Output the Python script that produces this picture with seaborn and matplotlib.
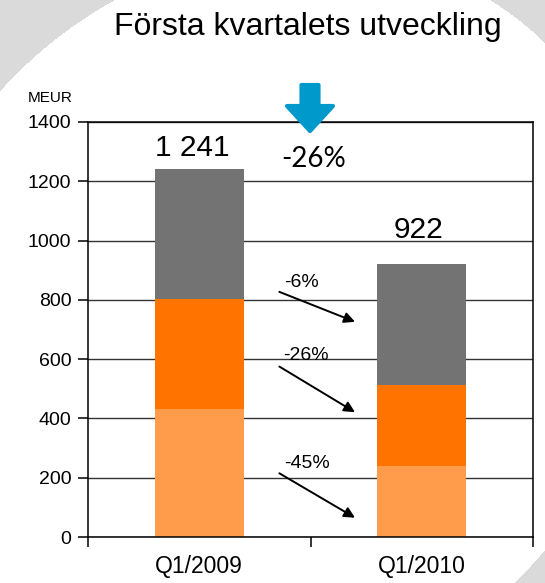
import matplotlib
matplotlib.use("Agg")
import matplotlib.pyplot as plt
from matplotlib.patches import FancyArrow
import seaborn as sns
import pandas as pd
import numpy as np

# Data (MEUR)
quarters = ['Q1/2009', 'Q1/2010']
low_part = [432, 238]     # light orange, bottom
mid_part = [370, 274]     # orange
top_part = [439, 410]     # grey, top
totals = [a + b + c for a, b, c in zip(low_part, mid_part, top_part)]
total_labels = ['1 241', '922']
change_total = '-26%'
change_labels = ['-6%', '-26%', '-45%']   # grey, orange, light orange

colors = {'low': '#FF9C4C', 'mid': '#FF7300', 'top': '#737373'}

sns.set_theme(style='white')
plt.rcParams['font.family'] = ['Liberation Sans', 'DejaVu Sans']

W, H = 545, 583
fig = plt.figure(figsize=(W / 100, H / 100), dpi=100)

# background: light grey with large tilted white ellipse (pixel grid, y down)
yy, xx = np.mgrid[0:H, 0:W] + 0.5
dx, dy = xx - 268, yy - 326
u = (dx - dy) / np.sqrt(2)   # towards top-right
v = (dx + dy) / np.sqrt(2)   # towards bottom-right
inside = (u / 396) ** 2 + (v / 356) ** 2 <= 1
bg_img = np.where(inside[..., None], 1.0, 0.855) * np.ones(3)

bg = fig.add_axes([0, 0, 1, 1], zorder=0)
bg.imshow(bg_img, extent=(0, W, 0, H), origin='upper', interpolation='bilinear')
bg.set_xlim(0, W)
bg.set_ylim(0, H)
bg.axis('off')

ax = fig.add_axes([88 / W, 46 / H, 445 / W, 415 / H], zorder=1)
ax.set_facecolor('none')

df = pd.DataFrame({'quarter': quarters, 'low': low_part, 'mid': mid_part,
                   'top': top_part})
df['low_cum'] = df['low']
df['mid_cum'] = df['low'] + df['mid']
df['top_cum'] = df['mid_cum'] + df['top']

# stacked bars drawn as overlapping cumulative bars
for col, key in [('top_cum', 'top'), ('mid_cum', 'mid'), ('low_cum', 'low')]:
    sns.barplot(data=df, x='quarter', y=col, color=colors[key], width=0.4,
                saturation=1, linewidth=0, ax=ax, zorder=2)

ax.set_xlim(-0.5, 1.5)
ax.set_ylim(0, 1400)
ax.set_yticks(range(0, 1401, 200))
ax.set_xlabel('')
ax.set_ylabel('')
ax.grid(axis='y', color='#333333', linewidth=1.0, zorder=1)
ax.set_axisbelow(True)
for s in ax.spines.values():
    s.set_color('black')
    s.set_linewidth(1.1)

ax.set_xticks([-0.5, 0.5, 1.5], minor=True)
ax.tick_params(axis='x', which='major', length=0, pad=13, labelsize=16.5,
               labelcolor='black')
ax.tick_params(axis='x', which='minor', length=7, width=1.1, color='black',
               direction='out', bottom=True)
ax.tick_params(axis='y', length=7, width=1.1, color='black', direction='out',
               left=True, pad=5, labelsize=14, labelcolor='black')

# total labels
ax.text(-0.03, totals[0] + 44, total_labels[0], ha='center', va='baseline',
        fontsize=21.5, color='black')
ax.text(0.985, totals[1] + 87, total_labels[1], ha='center', va='baseline',
        fontsize=21.5, color='black')

# segment change arrows
arrow_pos = [((0.36, 827), (0.70, 726)),
             ((0.36, 575), (0.70, 421)),
             ((0.36, 215), (0.70, 65))]
text_pos = [(0.381, 843), (0.375, 597), (0.381, 233)]
for lab, (p0, p1), tp in zip(change_labels, arrow_pos, text_pos):
    ax.annotate('', xy=p1, xytext=p0,
                arrowprops=dict(arrowstyle='-|>', color='black', lw=1.4,
                                mutation_scale=16, shrinkA=0, shrinkB=0),
                zorder=4)
    ax.text(tp[0], tp[1], lab, ha='left', va='baseline', fontsize=14,
            color='black', zorder=4)

# foreground: blue arrow, -26%
fg = fig.add_axes([0, 0, 1, 1], zorder=3)
fg.set_xlim(0, W)
fg.set_ylim(0, H)
fg.axis('off')
fg.patch.set_alpha(0)
fg.add_patch(FancyArrow(310, 498, 0, -46, width=17, head_width=46,
                        head_length=25, length_includes_head=True,
                        facecolor='#0099CC', edgecolor='#0099CC',
                        linewidth=3, joinstyle='round'))
fg.text(314, H - 167, change_total, ha='center', va='baseline',
        fontsize=20, family=['Lato', 'DejaVu Sans'], color='black')

fig.text(307.6 / W, (H - 35) / H, 'Första kvartalets utveckling',
         ha='center', va='baseline', fontsize=23, color='black')
fig.text(73 / W, (H - 102.5) / H, 'MEUR', ha='right', va='baseline',
         fontsize=11, color='black')

fig.savefig('out.png', dpi=100)
